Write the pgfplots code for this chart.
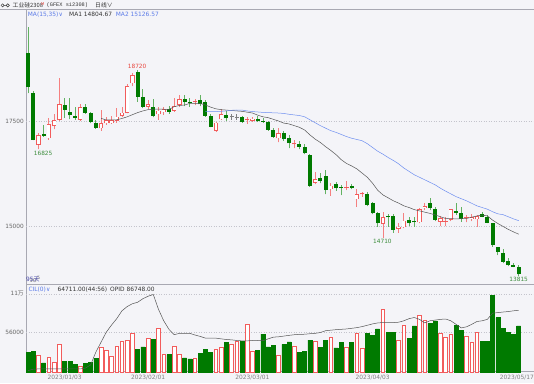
\documentclass[border=0pt]{standalone}
\usepackage{pgfplots}
\pgfplotsset{compat=1.18}
\usepackage{pgfplotstable}
\usepackage{fontspec}
\setmainfont{DejaVu Sans}
\newfontfamily\cjk{Noto Sans CJK SC}
\newfontfamily\mono{Liberation Mono}
\definecolor{bg}{HTML}{F4F4F8}
\definecolor{axc}{HTML}{A8A8B2}
\definecolor{gridc}{HTML}{C4C4CC}
\definecolor{cgreen}{HTML}{007A00}
\definecolor{gwick}{HTML}{62B262}
\definecolor{cred}{HTML}{F25C5C}
\definecolor{rwick}{HTML}{F58080}
\definecolor{cgray}{HTML}{808080}
\definecolor{ma1c}{HTML}{555555}
\definecolor{ma2c}{HTML}{6E8EF0}
\definecolor{tickc}{HTML}{666666}
\definecolor{datec}{HTML}{808080}
\definecolor{blutxt}{HTML}{5A7AE8}
\definecolor{darktxt}{HTML}{333333}
\definecolor{labr}{HTML}{E8463E}
\definecolor{labg}{HTML}{3C8C3C}
\definecolor{purp}{HTML}{4848A8}

\pgfplotstableread{
i o h l c v oi d m1 m2
0 19111 19730 18159 18318 28000 1900 0 nan nan
1 18175 18214 17040 17048 29500 4000 0 nan nan
2 16929 17206 16825 17167 23300 4300 1 nan nan
3 17190 17405 17127 17151 12900 4300 0 nan nan
4 17087 17563 17048 17421 21000 4300 1 nan nan
5 17381 17659 17302 17516 12900 4300 1 nan nan
6 17524 18516 17500 17897 38500 4300 1 nan nan
7 17881 18040 17579 17762 15200 4300 0 nan nan
8 17714 18056 17540 17635 14800 4300 0 nan nan
9 17619 17841 17524 17579 10500 4300 0 nan nan
10 17524 17905 17508 17825 7600 4300 1 nan nan
11 17841 17905 17667 17698 12400 5500 0 nan nan
12 17698 17722 17444 17476 13800 10000 0 nan nan
13 17460 17524 17310 17341 19500 28000 0 nan nan
14 17325 17762 17270 17444 34300 42000 1 17563 nan
15 17444 17603 17405 17524 30500 56000 1 17524 nan
16 17444 17619 17429 17524 22400 66000 1 17524 nan
17 17500 17802 17460 17603 36700 75000 1 17530 nan
18 17619 17841 17587 17698 42400 86000 1 17560 nan
19 17698 18381 17683 18333 44700 92000 1 17600 nan
20 18397 18635 18330 18595 54300 96000 1 17650 nan
21 18675 18720 17960 18079 31900 98000 0 17700 nan
22 18064 18254 17802 17841 35200 103000 0 17740 nan
23 17841 18000 17778 17897 47100 106500 1 17770 nan
24 17841 18016 17587 17619 45700 109000 0 17780 nan
25 17659 17841 17524 17746 61400 88000 1 17780 nan
26 17706 17841 17643 17778 24300 72000 1 17780 nan
27 17786 17865 17667 17722 24300 60000 0 17775 nan
28 17746 18040 17722 17857 36200 52500 1 17840 nan
29 17881 18119 17841 18016 24300 54300 1 17870 nan
30 18016 18119 17857 17960 20000 54300 0 17880 nan
31 17960 18056 17841 17937 18600 54300 0 17920 nan
32 17944 18016 17881 17944 19000 52000 1 17920 nan
33 18000 18119 17857 17897 25700 50000 0 17920 nan
34 17960 18000 17603 17627 31900 47600 0 17880 17722
35 17627 17667 17349 17365 28100 47600 0 17830 17722
36 17270 17484 17246 17460 31400 47600 1 17790 17725
37 17540 17778 17524 17667 34300 46600 1 17770 17730
38 17643 17738 17500 17564 41400 45700 0 17760 17740
39 17603 17667 17524 17603 39000 45200 2 17750 17755
40 17590 17667 17524 17590 43300 44300 2 17740 17762
41 17603 17619 17460 17476 43300 43800 0 17730 17760
42 17524 17587 17429 17524 67600 43800 1 17710 17740
43 17508 17603 17484 17556 29000 44300 1 17690 17725
44 17540 17619 17484 17508 30500 44300 0 17640 17715
45 17508 17563 17460 17484 53300 44000 0 17600 17705
46 17476 17500 17262 17286 35200 46600 0 17580 17700
47 17286 17325 17103 17119 37600 49000 0 17540 17695
48 17087 17325 16992 17206 23300 49500 1 17500 17690
49 17206 17270 17032 17063 39000 50500 0 17450 17680
50 17087 17167 16849 16968 42400 51500 0 17430 17660
51 16952 17048 16849 16952 36200 52400 1 17390 17645
52 16944 17032 16825 16889 28100 52900 0 17350 17630
53 16889 16944 16706 16730 28600 53100 0 17285 17600
54 16690 16706 15936 15960 44700 53800 0 17170 17530
55 16032 16294 16000 16111 42400 54300 1 17070 17460
56 16151 16254 16016 16071 34300 55500 0 16990 17390
57 16198 16333 15754 15857 44700 58000 0 16890 17330
58 15873 16016 15722 15960 48600 58800 1 16800 17270
59 15992 16056 15841 15897 33800 59500 0 16700 17230
60 15920 15976 15738 15905 41400 60000 0 16580 17180
61 15897 16079 15857 15897 34300 60500 1 16490 17130
62 15952 16000 15873 15913 41400 61400 0 16430 17090
63 15635 15881 15460 15754 54300 62400 1 16360 17060
64 15754 15817 15698 15754 33800 63800 1 16260 17030
65 15754 15817 15476 15500 54300 65700 0 16160 16960
66 15556 15579 15278 15302 51900 67600 0 16020 16870
67 15302 15341 14984 15063 60500 69000 0 15850 16780
68 15047 15341 14710 15206 87600 69500 1 15740 16710
69 15238 15278 14984 15206 55200 69500 0 15670 16630
70 15238 15286 14841 14905 55700 69500 0 15600 16560
71 14928 15063 14841 14984 43800 70000 1 15545 16480
72 14968 15302 14944 15127 66200 72000 1 15480 16380
73 15143 15206 15000 15063 47100 75000 0 15440 16300
74 15119 15206 14984 15087 64700 76600 0 15390 16220
75 15087 15421 15063 15397 79000 74000 1 15360 16160
76 15421 15540 15381 15476 73300 69000 1 15330 16100
77 15540 15659 15381 15421 68500 72000 0 15300 16040
78 15397 15460 15119 15143 71900 73000 0 15265 15980
79 15103 15238 15000 15182 54300 74000 1 15220 15900
80 15103 15222 15000 15127 48600 74500 1 15180 15830
81 15143 15405 15119 15397 52800 72000 1 15175 15765
82 15365 15540 15262 15317 65700 67000 0 15170 15700
83 15302 15460 15103 15159 58100 62000 0 15175 15650
84 15183 15262 15087 15183 50500 63500 1 15180 15600
85 15159 15286 15119 15206 41400 67000 1 15210 15540
86 15159 15262 14984 15238 55700 71000 1 15240 15480
87 15286 15341 15206 15222 43300 72000 0 15260 15440
88 15222 15262 15063 15079 43300 74000 0 15240 15400
89 15063 15079 14508 14547 108000 82800 0 15140 15340
90 14491 14508 14309 14388 76600 83500 0 15060 15290
91 14348 14444 14111 14150 61400 84300 0 14990 15270
92 14173 14246 14047 14070 55700 85000 0 14920 15220
93 14071 14127 14016 14032 53300 86000 0 14860 15170
94 14015 14071 13815 13848 64711 86748 0 14805 15127
}\data

\pgfplotsset{
  candle/.style n args={3}{only marks, mark=*, mark size=0pt,
    mark options={draw=none, fill=none}, forget plot,
    restrict expr to domain={\thisrow{d}}{#1},
    error bars/.cd, y dir=plus, y explicit, error mark=none,
    error bar style={line width=#2, draw=#3, line cap=butt}},
  panel/.style={scale only axis, anchor=south west, width=508pt,
    xmin=-0.383, xmax=96.935, axis line style={draw=none},
    major tick length=0pt,
    ymajorgrids, grid style={gridc, dash pattern=on 1pt off 1.5pt, line width=0.5pt},
    yticklabel style={font=\fontsize{5.8}{6}\selectfont, text=tickc, inner sep=0pt, xshift=-2pt}},
}
\tikzset{txt/.style={inner sep=0pt, anchor=west, font=\fontsize{5.9}{6}\selectfont}}

\begin{document}
\begin{tikzpicture}[x=1pt,y=1pt]
\fill[bg] (0,0) rectangle (534,383);
\draw[axc, line width=0.8pt] (0,374) -- (534,374);
\draw[axc, line width=0.8pt] (26,374) -- (26,11);
\draw[axc, line width=0.8pt] (26,98.3) -- (534,98.3);
\draw[axc, line width=0.6pt] (26,11.4) -- (534,11.4);

\begin{axis}[panel, at={(26pt,99pt)}, height=275pt,
  ymin=13619, ymax=20167, xtick=\empty,
  ytick={15000,17500}, yticklabels={15000,17500}]
% green candles
\addplot[candle={0:0}{0.8pt}{gwick}] table[x=i, y=l, y error expr=\thisrow{h}-\thisrow{l}] {\data};
\addplot[candle={0:0}{4pt}{cgreen}] table[x=i, y expr={min(\thisrow{o},\thisrow{c})}, y error expr={max(abs(\thisrow{c}-\thisrow{o}),24)}] {\data};
% red candles
\addplot[candle={1:1}{0.8pt}{rwick}] table[x=i, y=l, y error expr=\thisrow{h}-\thisrow{l}] {\data};
\addplot[candle={1:1}{4.4pt}{cred}] table[x=i, y expr={min(\thisrow{o},\thisrow{c})}, y error expr={max(abs(\thisrow{c}-\thisrow{o}),24)}] {\data};
\addplot[candle={1:1}{2.8pt}{white}] table[x=i, y expr={min(\thisrow{o},\thisrow{c})+17}, y error expr={max(abs(\thisrow{c}-\thisrow{o})-34,0)}] {\data};
% gray doji
\addplot[candle={2:2}{0.8pt}{cgray}] table[x=i, y=l, y error expr=\thisrow{h}-\thisrow{l}] {\data};
\addplot[candle={2:2}{4pt}{cgray}] table[x=i, y expr={\thisrow{o}-12}, y error expr=24] {\data};
% moving averages
\addplot[ma1c, line width=0.5pt, no marks, unbounded coords=jump, forget plot] table[x=i, y=m1] {\data};
\addplot[ma2c, line width=0.5pt, no marks, unbounded coords=jump, forget plot] table[x=i, y=m2] {\data};
% extreme labels
\node[anchor=south, inner sep=1.2pt, text=labr, font=\fontsize{5.8}{6}\selectfont] at (axis cs:20.9,18720) {18720};
\node[anchor=north, inner sep=1.2pt, text=labg, font=\fontsize{5.8}{6}\selectfont] at (axis cs:2.9,16825) {16825};
\node[anchor=north, inner sep=1.2pt, text=labg, font=\fontsize{5.8}{6}\selectfont] at (axis cs:67.9,14710) {14710};
\node[anchor=north, inner sep=1.2pt, text=labg, font=\fontsize{5.8}{6}\selectfont] at (axis cs:94,13815) {13815};
\end{axis}

\begin{axis}[panel, at={(26pt,11pt)}, height=87pt,
  ymin=0, ymax=122300,
  xtick={7,23,43,66}, xticklabels={2023/01/03,2023/02/01,2023/03/01,2023/04/03},
  extra x ticks={94}, extra x tick labels={2023/05/17},
  extra x tick style={xticklabel style={anchor=north east, xshift=15.3pt}},
  xticklabel style={font=\fontsize{5.9}{6}\selectfont, text=datec, inner sep=0pt, yshift=-2.6pt},
  ytick={56000,110000}, yticklabels={56000,{11{\cjk 万}}}]
\addplot[ybar, bar width=4pt, bar shift=0pt, fill=cgreen, draw=cgreen, line width=0.5pt, forget plot,
  restrict expr to domain={\thisrow{d}}{0:0}] table[x=i, y=v] {\data};
\addplot[ybar, bar width=3.6pt, bar shift=0pt, fill=white, draw=cred, line width=0.7pt, forget plot,
  restrict expr to domain={\thisrow{d}}{1:2}] table[x=i, y=v] {\data};
\addplot[ma1c, line width=0.5pt, no marks, forget plot] table[x=i, y=oi] {\data};
\end{axis}

% header texts
\draw[darktxt, line width=0.5pt] (2.6,377.6) circle (1.6) (4.2,377.6) -- (6.2,377.6) (7.8,377.6) circle (1.6);
\node[txt, text=darktxt, font=\cjk\fontsize{5.8}{6}\selectfont] at (12.5,377.4) {工业硅2308};
\node[txt, text=labr, font=\fontsize{3.8}{4}\selectfont] at (41,379) {M};
\node[txt, text=darktxt, font=\mono\fontsize{5.3}{6}\selectfont] at (46.5,377.4) {(GFEX si2308)};
\node[txt, text=darktxt, font=\cjk\fontsize{5.8}{6}\selectfont] at (95,377.4) {日线∨};
\node[txt, text=blutxt] at (27.7,368.3) {MA(15,35)∨};
\node[txt, text=darktxt] at (69,368.3) {MA1 14804.67};
\node[txt, text=blutxt] at (115.7,368.3) {MA2 15126.57};
\node[txt, text=purp] at (26,104) {95{\cjk 天}};
\node[txt, text=blutxt] at (28.3,93.7) {CIL(0)∨};
\node[txt, text=darktxt] at (57.3,93.7) {64711.00(44:56)};
\node[txt, text=darktxt] at (110,93.7) {OPID 86748.00};
\pgfresetboundingbox
\useasboundingbox (0,0) rectangle (534,383);
\end{tikzpicture}
\end{document}
